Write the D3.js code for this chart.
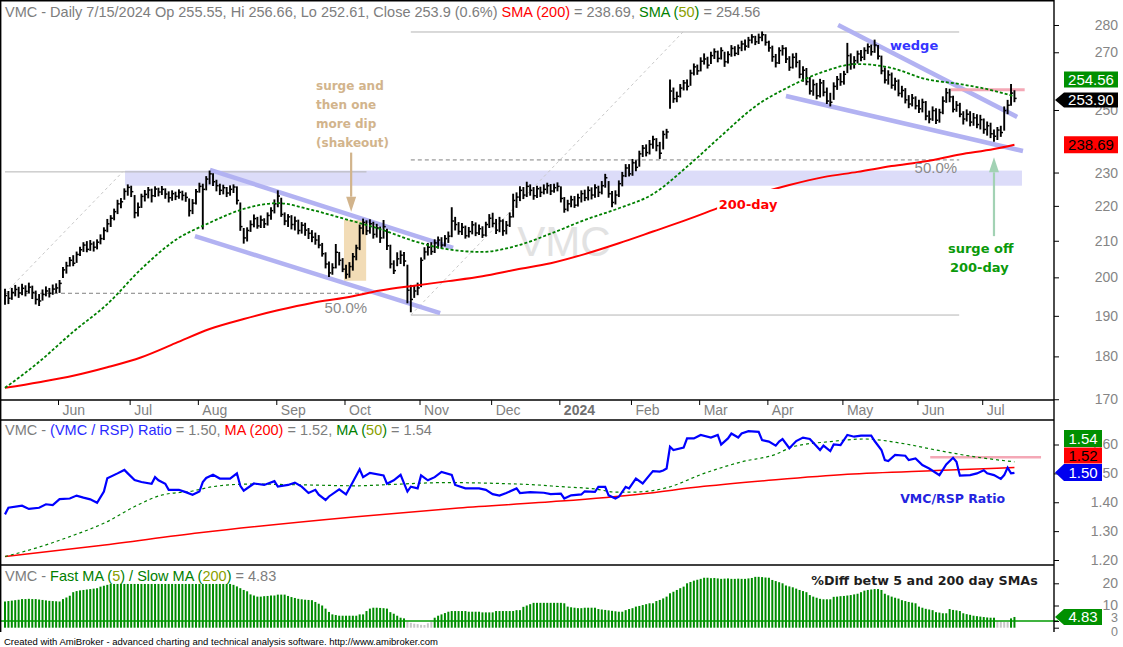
<!DOCTYPE html>
<html>
<head>
<meta charset="utf-8">
<title>VMC Daily</title>
<script src="https://d3js.org/d3.v7.min.js"></script>
<style>
  body { margin: 0; background: #fff; }
  svg text { font-family: "Liberation Sans", Arial, sans-serif; }
  .note { font-family: "DejaVu Sans", Verdana, sans-serif !important; font-weight: bold; }
</style>
</head>
<body>
<div id="chart"></div>
<script>
// ---- trading calendar ----
const firstDay = "2023-05-09";
const lastDay = "2024-07-15";
const holidays = ["2023-05-29","2023-06-19","2023-07-04","2023-09-04","2023-11-23","2023-12-25",
  "2024-01-01","2024-01-15","2024-02-19","2024-03-29","2024-05-27","2024-06-19","2024-07-04"];

// ---- daily prices, one value per trading day ----
const closes = [
  195.2,194.5,196.0,196.8,195.9,197.1,196.3,197.4,196.0,194.2,193.8,195.5,196.4,195.8,196.9,197.2,
  198.4,202.0,203.1,204.6,203.8,206.2,207.5,208.8,207.6,209.1,208.2,209.6,210.6,212.9,214.8,216.4,218.3,220.6,221.2,224.3,225.5,
  224.2,218.0,219.6,222.8,223.4,224.7,223.0,225.0,224.1,224.9,223.5,222.4,223.6,222.8,224.0,223.1,222.5,218.6,220.8,224.2,
  225.8,224.9,228.0,229.6,227.2,226.0,224.6,225.4,223.8,224.9,225.6,221.6,214.0,210.8,212.9,214.6,216.3,214.2,215.9,214.8,217.2,218.6,220.6,
  222.9,217.5,215.6,216.8,214.6,215.6,212.9,214.4,213.0,212.1,211.0,210.2,208.8,206.4,203.6,201.2,202.6,206.8,204.6,202.2,
  200.8,202.9,205.6,208.0,213.6,215.2,212.8,214.8,211.8,213.6,210.8,214.0,208.6,203.6,201.8,205.0,206.0,204.4,196.6,194.2,196.4,197.2,
  204.6,206.9,208.2,207.0,209.4,210.2,208.8,210.6,211.3,215.6,214.6,212.6,213.8,211.4,212.6,214.5,212.2,213.4,211.6,214.6,216.4,
  214.9,213.0,215.6,212.8,214.4,216.8,221.6,222.6,224.6,223.2,225.8,224.6,223.0,225.1,224.0,224.9,226.0,224.4,225.4,225.8,
  222.2,219.0,220.6,221.8,220.2,222.4,223.6,222.4,224.6,223.2,225.4,224.0,226.0,228.4,223.6,221.0,223.2,226.6,229.0,231.4,229.6,
  233.0,231.6,235.8,237.6,236.2,238.8,240.4,238.4,236.0,242.0,242.8,256.4,253.8,254.6,257.4,259.2,258.0,262.6,264.8,263.4,
  266.8,267.6,265.4,268.8,270.2,267.8,270.6,266.6,269.2,271.4,269.6,271.6,273.0,272.2,274.4,275.6,273.8,275.4,276.4,273.6,
  271.6,268.4,266.2,270.6,271.4,267.6,264.6,268.2,266.4,262.2,263.6,259.6,256.4,258.6,254.8,259.2,256.0,253.0,252.6,258.0,260.4,259.6,
  262.2,268.8,265.8,267.0,269.4,268.2,270.6,272.0,270.2,272.6,268.6,263.4,260.2,262.0,258.4,259.8,255.6,256.6,253.4,252.0,254.0,251.4,
  250.4,252.6,248.0,247.0,249.8,246.6,249.2,253.0,255.8,254.4,250.2,251.6,248.6,247.0,248.6,246.0,247.4,245.2,246.8,
  243.6,244.8,242.2,241.4,243.4,242.6,249.8,251.6,255.7,253.9
];
const highs = [
  197.0,196.4,197.2,198.0,197.5,198.3,197.9,198.6,197.8,196.5,195.6,196.8,197.6,197.2,198.1,198.4,
  199.3,202.8,204.2,205.5,206.0,207.0,208.3,209.6,209.9,210.2,209.8,210.4,211.8,213.8,216.2,217.3,219.2,221.8,222.3,225.2,226.4,
  226.0,223.2,221.0,223.6,224.7,225.6,225.1,225.8,225.4,225.9,225.2,224.3,224.6,224.2,224.9,224.5,224.0,222.2,222.0,225.0,
  226.9,226.6,228.9,230.6,229.8,227.8,226.6,226.3,225.6,226.1,226.4,225.8,221.0,213.6,213.8,215.8,217.5,216.8,217.2,216.4,218.1,219.6,221.9,
  224.6,222.4,218.1,217.6,217.3,216.9,216.0,215.3,215.1,213.6,213.0,212.3,211.6,209.4,206.8,204.3,203.8,209.1,206.9,205.2,
  203.4,204.1,206.6,208.9,214.6,216.3,215.8,216.1,215.4,214.8,214.0,215.9,213.4,208.9,204.6,206.8,207.3,206.9,203.4,198.0,197.8,198.6,
  205.4,208.2,209.4,209.6,210.4,211.2,211.0,211.6,212.6,219.6,216.8,215.3,215.0,214.3,213.9,215.6,215.2,214.6,214.1,215.4,217.6,
  218.0,216.2,216.8,216.1,215.6,218.1,223.6,224.0,225.8,225.6,227.2,226.4,225.6,226.0,225.7,226.4,226.9,226.5,226.6,227.0,
  225.8,222.6,221.8,223.0,222.9,223.6,224.6,224.8,225.8,225.5,226.4,226.0,227.4,229.6,227.4,224.4,224.6,227.6,230.2,232.6,232.6,
  234.2,233.8,236.8,238.6,238.8,240.2,241.6,240.8,239.6,243.2,243.8,260.4,257.6,256.2,258.8,260.2,260.4,263.8,266.0,265.6,
  268.2,269.6,268.4,270.2,271.4,270.6,271.8,270.2,270.4,272.6,272.2,272.8,274.2,274.6,275.6,276.6,276.0,276.8,277.6,276.6,
  274.2,272.4,269.4,271.8,272.6,271.8,268.6,269.6,269.8,267.2,265.0,264.4,261.2,260.4,259.2,260.6,260.2,257.6,255.8,259.4,261.6,262.6,
  263.4,273.4,269.6,268.6,270.6,270.8,271.8,273.2,272.8,274.6,272.6,268.8,264.6,263.6,262.8,261.0,260.4,258.2,257.4,255.0,255.4,254.6,
  253.4,253.8,253.0,249.8,251.2,250.6,250.4,254.6,257.4,257.2,254.8,253.0,252.4,249.6,250.2,249.6,249.0,248.6,248.4,
  247.2,246.2,245.8,243.6,244.4,244.8,251.2,253.4,258.8,256.66
];
const lows = [
  192.8,193.0,194.1,195.0,194.6,195.3,195.0,195.8,194.3,192.9,192.5,193.9,195.0,194.7,195.4,195.8,
  195.9,199.8,201.0,202.9,203.0,203.9,205.8,206.9,206.8,207.2,207.0,207.6,209.0,210.2,212.4,213.9,215.8,217.6,219.3,221.8,223.0,
  222.6,216.4,216.9,219.4,221.3,222.2,221.0,222.6,222.8,223.2,222.1,221.0,221.5,221.7,222.1,221.6,221.2,216.9,217.6,220.4,
  223.9,213.2,224.6,226.4,225.9,224.3,223.2,223.4,222.6,223.0,223.8,220.4,212.8,209.2,209.8,212.5,213.8,213.4,213.6,213.6,214.3,216.0,217.8,
  219.6,216.8,214.4,213.9,213.2,212.9,211.8,212.0,211.4,210.5,209.6,208.9,207.9,205.6,202.4,200.1,200.7,202.4,203.2,201.4,
  199.6,199.9,201.8,204.6,207.4,211.8,211.6,212.0,210.6,210.9,209.4,210.6,207.4,202.4,200.9,203.0,203.6,203.0,193.2,190.9,194.6,195.3,
  197.4,204.8,205.9,206.1,206.6,207.8,207.9,208.4,209.4,211.0,212.9,211.7,211.6,210.6,210.9,211.8,211.3,211.6,210.8,211.2,213.6,
  213.8,211.9,212.4,211.4,211.8,213.9,216.6,219.4,221.4,222.0,222.6,223.0,221.8,222.3,222.6,223.4,223.6,223.2,223.9,224.3,
  221.0,218.0,218.4,219.6,219.4,219.8,221.0,221.4,221.6,221.9,222.4,222.6,223.4,225.4,222.4,219.6,220.4,222.6,225.8,228.6,228.8,
  229.0,230.4,231.8,234.8,235.0,235.6,237.4,236.6,234.2,237.2,240.6,250.4,252.4,252.6,254.2,256.6,256.6,258.2,261.8,262.0,
  263.2,265.6,264.2,265.8,267.6,266.4,267.4,264.8,266.0,268.4,268.6,269.0,270.4,270.6,271.6,273.2,272.6,273.0,274.0,272.4,
  270.2,266.6,264.6,265.8,268.8,266.2,263.4,264.2,264.6,260.8,259.6,258.4,255.2,254.8,253.6,254.2,254.6,252.0,251.2,253.4,256.8,258.2,
  258.6,262.6,263.8,264.2,266.0,266.8,267.2,269.4,268.8,269.8,267.4,262.2,259.0,258.6,257.2,256.6,254.6,254.2,252.2,250.6,251.2,250.2,
  249.0,249.2,246.6,245.6,246.4,245.4,245.8,248.6,252.4,252.6,249.2,249.4,247.6,245.2,246.2,244.6,244.8,244.0,243.6,
  242.2,241.6,240.8,239.6,240.2,241.2,243.2,248.6,251.4,252.61
];

// ---- moving averages, read every 10 bars ----
const smaIdx = [0,10,20,30,40,50,60,70,80,90,100,110,120,130,140,150,160,170,180,190,200,210,220,230,240,250,260,270,280,290,296];
const sma50 = [172.6,178.7,186.0,193.0,202.3,210.2,215.1,219.1,220.8,218.8,216.1,213.3,209.9,207.6,206.9,208.6,212.0,215.9,219.3,223.5,231.8,241.5,251.2,257.9,263.1,265.8,264.4,260.5,258.8,256.5,254.56];
const sma200 = [172.6,173.9,175.4,177.4,179.8,183.2,186.7,189.2,191.4,193.3,194.7,196.5,197.8,199.0,200.3,202.1,203.8,206.3,209.3,212.6,216.0,219.7,223.3,226.2,228.6,230.2,232.0,233.5,235.6,237.3,238.69];

// ---- VMC / RSP ratio ----
const ratioIdx = [0,1,5,7,10,12,14,16,19,21,23,25,27,29,30,33,35,36,38,40,43,44,45,47,48,51,53,55,57,58,59,61,63,66,68,69,70,73,76,79,80,83,85,87,89,91,92,94,95,98,100,102,104,105,107,111,112,114,116,118,119,121,122,124,126,128,131,132,135,139,141,143,145,147,150,151,154,158,160,163,164,166,169,170,173,174,176,177,179,180,182,183,185,187,189,190,192,193,194,195,196,199,200,202,204,207,209,210,212,213,215,216,218,221,222,224,226,227,228,230,232,234,236,239,240,242,243,245,247,249,251,254,255,257,258,259,261,264,265,267,269,271,274,276,278,279,280,283,285,287,288,290,292,293,294,295,296];
const ratioVal = [1.358,1.381,1.388,1.377,1.381,1.393,1.390,1.411,1.413,1.423,1.416,1.410,1.398,1.437,1.483,1.500,1.512,1.500,1.477,1.470,1.464,1.487,1.476,1.464,1.443,1.443,1.435,1.426,1.437,1.470,1.484,1.495,1.482,1.482,1.500,1.457,1.440,1.465,1.460,1.473,1.454,1.460,1.468,1.454,1.432,1.443,1.426,1.408,1.420,1.445,1.427,1.470,1.514,1.487,1.502,1.493,1.464,1.476,1.495,1.437,1.454,1.448,1.493,1.476,1.487,1.505,1.495,1.460,1.448,1.448,1.443,1.428,1.423,1.432,1.448,1.432,1.435,1.433,1.428,1.430,1.413,1.424,1.427,1.438,1.436,1.453,1.453,1.424,1.413,1.419,1.453,1.448,1.482,1.465,1.494,1.508,1.506,1.510,1.517,1.592,1.581,1.589,1.621,1.621,1.633,1.624,1.633,1.600,1.621,1.638,1.624,1.638,1.646,1.644,1.615,1.610,1.596,1.610,1.619,1.587,1.612,1.624,1.619,1.581,1.596,1.577,1.600,1.598,1.633,1.627,1.631,1.631,1.612,1.581,1.546,1.543,1.564,1.561,1.546,1.552,1.529,1.517,1.494,1.531,1.554,1.540,1.492,1.494,1.500,1.511,1.500,1.494,1.481,1.494,1.520,1.500,1.502];
const ratioMa200Idx = [0,28,57,103,133,163,186,205,226,247,273,296];
const ratioMa200 = [1.212,1.250,1.294,1.350,1.380,1.404,1.428,1.455,1.478,1.497,1.510,1.520];
const ratioMa50Idx = [0,9,19,30,38,46,55,61,72,88,103,114,129,145,156,163,173,179,184,194,205,216,226,231,242,252,263,273,284,296];
const ratioMa50 = [1.212,1.241,1.281,1.333,1.385,1.425,1.439,1.454,1.463,1.460,1.457,1.462,1.468,1.465,1.460,1.454,1.446,1.435,1.435,1.450,1.500,1.540,1.566,1.592,1.610,1.619,1.604,1.581,1.558,1.540];

// ---- % diff between 5 and 200 day SMAs, one per trading day ----
const pctDiff = [
  11.8,12.0,12.2,12.4,12.6,12.9,12.9,13.0,12.9,12.9,12.7,12.5,12.3,12.1,12.0,11.9,
  11.8,12.9,13.6,14.4,16.0,16.5,16.8,17.0,17.2,17.4,17.6,17.8,18.5,18.9,19.3,19.7,19.7,19.7,19.7,19.7,19.7,
  19.7,19.7,19.7,19.7,19.7,19.7,19.7,19.7,19.7,19.7,19.7,19.7,19.7,19.7,19.7,19.7,19.7,19.7,19.7,19.7,
  19.7,19.7,19.7,19.7,19.7,19.7,19.7,19.7,19.7,19.7,19.3,18.6,17.8,17.0,16.4,15.0,14.5,14.0,14.0,14.2,14.3,14.5,14.5,
  14.9,14.9,14.9,14.3,13.8,13.4,13.0,12.8,12.6,12.5,12.4,11.6,10.8,10.0,8.6,7.1,6.0,5.7,5.4,5.4,
  5.4,5.4,5.4,5.4,6.0,6.0,7.5,8.6,9.0,9.0,8.9,8.8,8.6,7.0,6.3,5.4,4.5,4.2,2.7,2.2,1.8,1.6,
  1.3,1.2,2.0,2.6,4.5,5.4,6.0,6.6,7.2,7.5,7.5,7.5,7.5,7.5,7.2,7.2,7.2,7.2,6.9,6.9,6.9,
  6.9,7.5,7.5,7.5,7.5,7.5,7.5,7.9,7.9,9.4,10.0,10.6,11.2,11.2,11.2,11.2,11.2,11.2,11.2,11.2,
  11.2,11.0,9.5,9.2,9.0,8.8,8.8,9.0,9.0,9.0,9.0,8.4,8.2,8.0,7.8,7.6,7.4,7.2,7.2,7.9,8.4,
  8.8,9.5,9.8,10.2,10.6,11.0,11.0,12.0,12.5,13.2,14.0,15.5,16.2,17.0,17.8,18.5,20.0,20.6,21.2,21.6,
  22.0,22.5,22.5,22.3,22.4,22.2,22.0,22.1,22.2,22.0,22.0,22.1,22.0,22.0,22.2,22.4,22.9,22.9,22.8,22.6,
  22.5,21.5,21.0,20.5,20.0,19.0,18.6,18.2,17.6,17.0,16.5,16.0,14.7,14.0,13.5,13.0,12.8,12.8,12.8,13.9,14.0,14.2,
  14.3,14.5,14.7,15.0,15.3,16.0,16.7,17.0,17.2,17.4,17.4,17.0,15.3,14.6,14.0,13.5,13.1,12.4,12.0,11.6,11.3,11.0,
  9.5,9.0,8.5,8.2,7.9,7.0,6.8,6.5,6.5,8.4,8.0,7.8,7.5,6.5,6.1,5.8,5.4,5.2,5.0,
  4.8,4.6,4.5,4.5,2.9,2.8,2.6,2.6,4.2,4.83
];

// ---- drawn annotations (bar index, price) ----
const channelSegs = [[60.1,230.8,131.4,208.0],[55.7,211.3,127.6,190.7],[244.3,280.0,296.8,247.7],[229.0,254.7,298.5,236.7]];
const fibSolid = [[0,230.2,106,230.2],[119,277.4,279.8,277.4],[119,190.2,279.8,190.2]];
const fibDashed = [[0,195.8,106,195.8],[119,233.9,279.8,233.9]];
const fibDiag = [[0,195.8,34.6,230.3],[119,190.2,198.8,277.4]];
const priceTicks = [170,180,190,200,210,220,230,250,270,280];

// ---- layout ----
const W = 1123, H = 647, R = 1054;
const svg = d3.select("#chart").append("svg").attr("width", W).attr("height", H);

const fmt = d3.utcFormat("%Y-%m-%d");
const hol = new Set(holidays);
const dates = d3.utcDays(new Date(firstDay + "T00:00Z"), new Date(lastDay + "T12:00Z"))
  .filter(d => d.getUTCDay() % 6 !== 0 && !hol.has(fmt(d)));

const x = d3.scaleLinear().domain([0, 307.6]).range([5, R]);
const y = d3.scaleLog().domain([169.83, 289.49]).range([400, 0]);
const yR = d3.scaleLinear().domain([1.20, 1.60]).range([560, 444.5]);
const yD = d3.scaleLinear().domain([0, 20]).range([627.7, 583.3]);

const defs = svg.append("defs");
[["cMain", 0, 400], ["cRatio", 420, 565], ["cDiff", 565, 632]].forEach(([id, a, b]) =>
  defs.append("clipPath").attr("id", id).append("rect").attr("x", 0).attr("y", a).attr("width", R).attr("height", b - a));

// ===== main price panel =====
const gm = svg.append("g").attr("clip-path", "url(#cMain)");

gm.append("rect").attr("x", x(35.2)).attr("width", x(298.2) - x(35.2))
  .attr("y", y(230.6)).attr("height", y(226.0) - y(230.6)).attr("fill", "#dcdcf9");
gm.append("rect").attr("x", x(99.4)).attr("width", x(105.9) - x(99.4))
  .attr("y", y(215.9)).attr("height", y(199.1) - y(215.9)).attr("fill", "#f2dcb6");

const seg = (g, s) => g.append("line").attr("x1", x(s[0])).attr("y1", y(s[1])).attr("x2", x(s[2])).attr("y2", y(s[3]));
fibSolid.forEach(s => seg(gm, s).attr("stroke", "#b4b4b4").attr("stroke-width", 1));
fibDashed.forEach(s => seg(gm, s).attr("stroke", "#808080").attr("stroke-width", 1).attr("stroke-dasharray", "4,3"));
fibDiag.forEach(s => seg(gm, s).attr("stroke", "#c8c8c8").attr("stroke-width", 1).attr("stroke-dasharray", "3,3"));

gm.append("text").attr("x", x(150.2)).attr("y", y(205.8)).text("VMC")
  .attr("font-size", 42).attr("fill", "#e2e2e2");

channelSegs.forEach(s => seg(gm, s).attr("stroke", "#b2b2f2").attr("stroke-width", 4.5));
seg(gm, [277.4, 256.8, 299, 256.8]).attr("stroke", "#f4a8b6").attr("stroke-width", 3);

// OHLC bars
gm.append("g").selectAll("line").data(closes).join("line")
  .attr("x1", (d, i) => x(i)).attr("x2", (d, i) => x(i))
  .attr("y1", (d, i) => y(highs[i])).attr("y2", (d, i) => y(lows[i]))
  .attr("stroke", "#000").attr("stroke-width", 1.9);
gm.append("g").selectAll("line").data(closes).join("line")
  .attr("x1", (d, i) => x(i)).attr("x2", (d, i) => x(i) + 2.2)
  .attr("y1", d => y(d)).attr("y2", d => y(d))
  .attr("stroke", "#000").attr("stroke-width", 1.5);

const maLine = d3.line().x(d => x(d[0])).y(d => y(d[1])).curve(d3.curveMonotoneX);
gm.append("path").attr("d", maLine(smaIdx.map((v, k) => [v, sma200[k]])))
  .attr("fill", "none").attr("stroke", "#ff0000").attr("stroke-width", 2);
gm.append("path").attr("d", maLine(smaIdx.map((v, k) => [v, sma50[k]])))
  .attr("fill", "none").attr("stroke", "#008000").attr("stroke-width", 1.8).attr("stroke-dasharray", "3,2");

// annotations
const lbl200 = gm.append("g");
lbl200.append("rect").attr("x", x(217.9) - 31).attr("y", y(219.1) - 20).attr("width", 62).attr("height", 24).attr("fill", "#fff");
lbl200.append("text").attr("class", "note").attr("x", x(217.9)).attr("y", y(219.1)).attr("text-anchor", "middle")
  .attr("font-size", 13).attr("fill", "#ff0000").text("200-day");

gm.append("text").attr("class", "note").attr("x", x(259.5)).attr("y", y(270.8))
  .attr("font-size", 13).attr("fill", "#3535ff").text("wedge");

const surge = gm.append("text").attr("class", "note").attr("font-size", 12).attr("fill", "#d2b48c");
["surge and", "then one", "more dip", "(shakeout)"].forEach((t, k) =>
  surge.append("tspan").attr("x", x(91.2)).attr("y", y(256.9) + k * 19.3).text(t));

const soff = gm.append("text").attr("class", "note").attr("font-size", 13).attr("fill", "#0a9a0a");
soff.append("tspan").attr("x", x(276.5)).attr("y", y(206.7)).text("surge off");
soff.append("tspan").attr("x", x(277.1)).attr("y", y(206.7) + 19.5).text("200-day");

gm.append("text").attr("x", x(106.2)).attr("y", y(190.7)).attr("text-anchor", "end")
  .attr("font-size", 15).attr("fill", "#8a8a8a").text("50.0%");
gm.append("text").attr("x", x(279.2)).attr("y", y(229.8)).attr("text-anchor", "end")
  .attr("font-size", 15).attr("fill", "#8a8a8a").text("50.0%");

function arrow(g, i, from, tip, color, dir) {
  const ax = x(i), y0 = y(from), yt = y(tip), hb = yt - dir * 15;
  g.append("line").attr("x1", ax).attr("x2", ax).attr("y1", y0).attr("y2", hb)
    .attr("stroke", color).attr("stroke-width", 2.2);
  g.append("path").attr("d", `M${ax - 5},${hb}L${ax + 5},${hb}L${ax},${yt}Z`).attr("fill", color);
}
arrow(gm, 101.5, 236.2, 218.3, "#d2b48c", 1);
arrow(gm, 290, 211.3, 234.7, "#a2d2b4", -1);

// header
const hdr = svg.append("text").attr("x", 5).attr("y", 17).attr("font-size", 14.5).attr("fill", "#7d7d7d");
[["VMC - Daily 7/15/2024 Op 255.55, Hi 256.66, Lo 252.61, Close 253.9 (0.6%) ", "#7d7d7d"],
 ["SMA (200)", "#ff0000"], [" = 238.69, ", "#7d7d7d"], ["SMA (", "#008000"], ["50", "#8ca000"],
 [")", "#008000"], [" = 254.56", "#7d7d7d"]].forEach(([t, c]) => hdr.append("tspan").attr("fill", c).text(t));

// price axis (labels under the value boxes are left out, as in the picture)
const axP = svg.append("g").attr("transform", `translate(${R},0)`)
  .call(d3.axisRight(y).tickValues(priceTicks).tickSize(5).tickFormat(d3.format("d")));
// x axis with month starts
const monthIdx = d3.range(1, dates.length).filter(i => dates[i].getUTCMonth() !== dates[i - 1].getUTCMonth());
const axX = svg.append("g").attr("transform", "translate(0,400)")
  .call(d3.axisBottom(x).tickValues(monthIdx.map(i => i - 0.45)).tickSize(5)
    .tickFormat((d, k) => { const dt = dates[monthIdx[k]]; return dt.getUTCMonth() === 0 ? dt.getUTCFullYear() : d3.utcFormat("%b")(dt); }));
axX.select(".domain").remove();
axX.selectAll("text").attr("text-anchor", "start").attr("x", 4).attr("y", 5).attr("font-size", 14).attr("fill", "#808080");
axX.selectAll(".tick text").filter(function () { return /^\d+$/.test(this.textContent); })
  .attr("font-weight", "bold").attr("fill", "#707070");

// ===== ratio panel =====
const gr = svg.append("g").attr("clip-path", "url(#cRatio)");
const rLine = d3.line().x(d => x(d[0])).y(d => yR(d[1]));
gr.append("line").attr("x1", x(271.3)).attr("x2", x(303.8)).attr("y1", yR(1.556)).attr("y2", yR(1.556))
  .attr("stroke", "#f4a8b6").attr("stroke-width", 2.5);
gr.append("path").attr("d", rLine.curve(d3.curveMonotoneX)(ratioMa200Idx.map((v, k) => [v, ratioMa200[k]])))
  .attr("fill", "none").attr("stroke", "#ff0000").attr("stroke-width", 1.5);
gr.append("path").attr("d", rLine.curve(d3.curveMonotoneX)(ratioMa50Idx.map((v, k) => [v, ratioMa50[k]])))
  .attr("fill", "none").attr("stroke", "#008000").attr("stroke-width", 1.2).attr("stroke-dasharray", "3,3");
gr.append("path").attr("d", rLine.curve(d3.curveLinear)(ratioIdx.map((v, k) => [v, ratioVal[k]])))
  .attr("fill", "none").attr("stroke", "#0000ff").attr("stroke-width", 2.2);
gr.append("text").attr("class", "note").attr("x", x(262.5)).attr("y", yR(1.398))
  .attr("font-size", 12.5).attr("fill", "#2424e0").text("VMC/RSP Ratio");

const rt = svg.append("text").attr("x", 5).attr("y", 435).attr("font-size", 14.5).attr("fill", "#7d7d7d");
[["VMC - ", "#7d7d7d"], ["(VMC / RSP) Ratio", "#2a2aff"], [" = 1.50, ", "#7d7d7d"], ["MA (200)", "#ff0000"],
 [" = 1.52, ", "#7d7d7d"], ["MA (", "#008000"], ["50", "#8ca000"], [")", "#008000"], [" = 1.54", "#7d7d7d"]]
  .forEach(([t, c]) => rt.append("tspan").attr("fill", c).text(t));

const axR = svg.append("g").attr("transform", `translate(${R},0)`)
  .call(d3.axisRight(yR).tickValues([1.2, 1.3, 1.4, 1.5, 1.6]).tickSize(5).tickFormat(d3.format(".2f")));

// ===== % diff panel =====
const gd = svg.append("g").attr("clip-path", "url(#cDiff)");
gd.append("g").selectAll("rect").data(pctDiff).join("rect")
  .attr("x", (d, i) => x(i) - 1).attr("width", 2)
  .attr("y", d => yD(d)).attr("height", d => yD(0) - yD(d))
  .attr("fill", d => d < 3 ? "#c6c6c6" : "#008c00");
svg.append("line").attr("x1", 0).attr("x2", R + 4).attr("y1", yD(3)).attr("y2", yD(3))
  .attr("stroke", "#009a00").attr("stroke-width", 1.5);
svg.append("text").attr("class", "note").attr("x", x(236.4)).attr("y", yD(19.2))
  .attr("font-size", 12.7).attr("fill", "#1e1e1e").text("%Diff betw 5 and 200 day SMAs");

const dt = svg.append("text").attr("x", 5).attr("y", 581).attr("font-size", 14.5).attr("fill", "#7d7d7d");
[["VMC - ", "#7d7d7d"], ["Fast MA (", "#008000"], ["5", "#8ca000"], [") / Slow MA (", "#008000"], ["200", "#8ca000"],
 [")", "#008000"], [" = 4.83", "#7d7d7d"]].forEach(([t, c]) => dt.append("tspan").attr("fill", c).text(t));

const axD = svg.append("g").attr("transform", `translate(${R},0)`)
  .call(d3.axisRight(yD).tickValues([0, 3, 10, 20]).tickSize(5).tickFormat(d3.format("d")));

[axP, axR, axD].forEach(a => {
  a.select(".domain").remove();
  a.selectAll("text").attr("x", 64).attr("text-anchor", "end").attr("font-size", 14).attr("fill", "#858585");
});
axD.selectAll(".tick text").filter(d => d === 3).attr("dy", "0.05em").attr("font-size", 12.5);
axD.selectAll(".tick text").filter(d => d === 0).attr("dy", "0.6em").attr("font-size", 12.5);
svg.selectAll(".tick line").attr("stroke", "#000");

// ===== frames =====
const frame = svg.append("g").attr("fill", "none").attr("stroke", "#000").attr("stroke-width", 1.4);
frame.append("line").attr("x1", 0.7).attr("x2", 0.7).attr("y1", 0).attr("y2", 632);
frame.append("line").attr("x1", R).attr("x2", R).attr("y1", 0).attr("y2", 632);
[0.7, 400, 420, 565].forEach(v => frame.append("line").attr("x1", 0).attr("x2", R).attr("y1", v).attr("y2", v));

// ===== value boxes on the right axis =====
function vbox(cy, x0, x1, h, fill, color, label, pointer) {
  const g = svg.append("g");
  const p = pointer
    ? `M${R + 1},${cy}L${x0},${cy - h / 2}L${x1},${cy - h / 2}L${x1},${cy + h / 2}L${x0},${cy + h / 2}Z`
    : `M${x0},${cy - h / 2}L${x1},${cy - h / 2}L${x1},${cy + h / 2}L${x0},${cy + h / 2}Z`;
  g.append("path").attr("d", p).attr("fill", fill);
  g.append("text").attr("x", (x0 + x1) / 2).attr("y", cy + 5.5).attr("text-anchor", "middle")
    .attr("font-size", 15).attr("fill", color).text(label);
}
const cClose = y(closes[closes.length - 1]) + 1.5;
vbox(cClose - 20.5, 1064, 1118, 16, "#009000", "#fff", "254.56", false);
vbox(cClose, 1064, 1118, 15, "#000", "#fff", "253.90", true);
vbox(y(238.69), 1064, 1118, 17, "#ff0000", "#000", "238.69", false);

const cRat = yR(1.50) - 1;
vbox(cRat, 1064, 1102, 17, "#0000f0", "#fff", "1.50", true);
vbox(cRat - 17, 1064, 1102, 16, "#ff0000", "#000", "1.52", false);
vbox(cRat - 34, 1064, 1102, 17, "#009000", "#fff", "1.54", false);
vbox(yD(4.83), 1064, 1102, 16, "#009000", "#fff", "4.83", true);

svg.append("text").attr("x", 4).attr("y", 645).attr("font-size", 9.5).attr("fill", "#000")
  .text("Created with AmiBroker - advanced charting and technical analysis software. http://www.amibroker.com");
</script>
</body>
</html>
